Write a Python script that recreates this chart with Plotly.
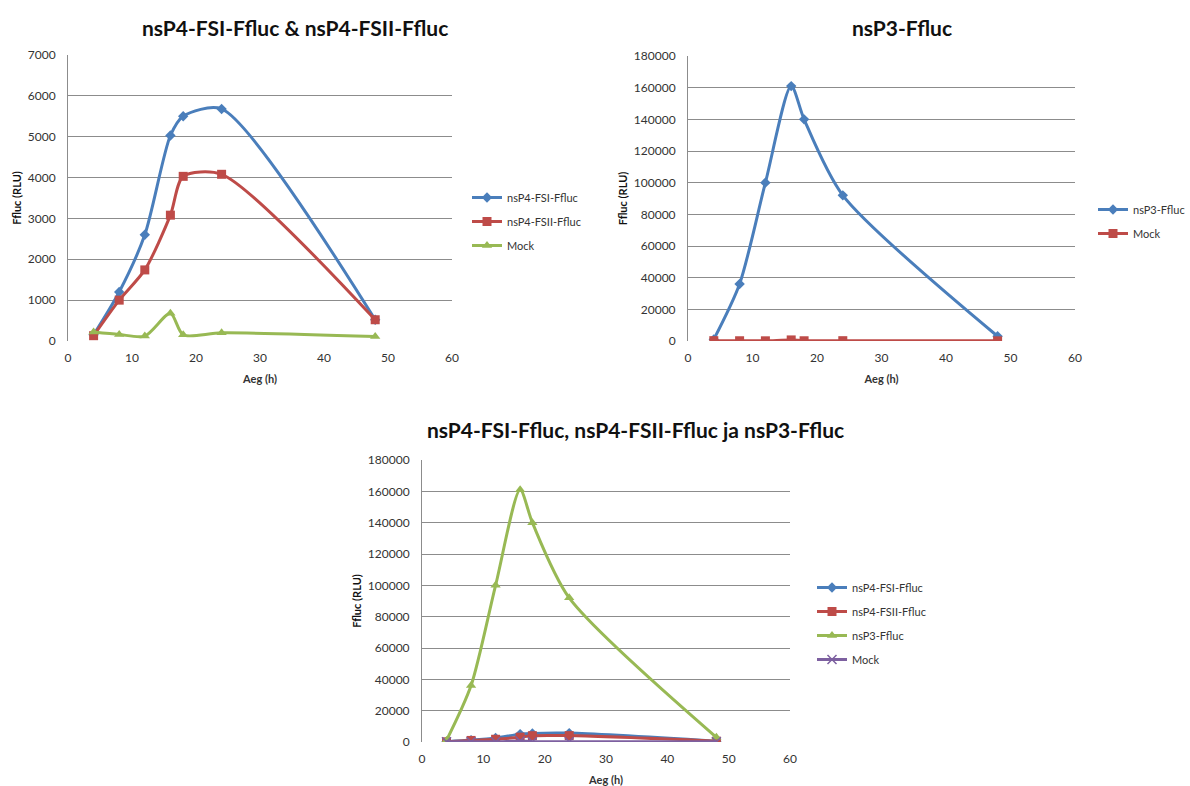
import plotly.graph_objects as go

hours = [4, 8, 12, 16, 18, 24, 48]
fsi = [150, 1200, 2600, 5030, 5500, 5680, 520]
fsii = [130, 1000, 1740, 3080, 4030, 4080, 520]
mock = [220, 160, 120, 680, 150, 200, 110]
nsp3 = [1000, 36000, 100000, 161000, 140000, 92000, 3000]

x_ticks = [0, 10, 20, 30, 40, 50, 60]

BLUE = "#4A7EBB"
RED = "#BE4B48"
GREEN = "#98B954"
PURPLE = "#7D60A0"
FONT = "Lato, Noto Sans, sans-serif"

fig = go.Figure()

def add(x, y, name, color, symbol, xa, ya, legend, msize=8):
    fig.add_trace(go.Scatter(
        x=x, y=y, name=name, mode="lines+markers",
        line=dict(color=color, width=3, shape="spline", smoothing=0.75),
        marker=dict(symbol=symbol, size=msize, color=color,
                    line=dict(color=color, width=1.5 if symbol == "x-thin" else 0)),
        xaxis=xa, yaxis=ya, legend=legend, legendgroup=legend + name))

# Chart 1
add(hours, fsi, "nsP4-FSI-Ffluc", BLUE, "diamond", "x", "y", "legend")
add(hours, fsii, "nsP4-FSII-Ffluc", RED, "square", "x", "y", "legend", 9)
add(hours, mock, "Mock", GREEN, "triangle-up", "x", "y", "legend", 9)
# Chart 2
add(hours, nsp3, "nsP3-Ffluc", BLUE, "diamond", "x2", "y2", "legend2")
add(hours, mock, "Mock", RED, "square", "x2", "y2", "legend2", 9)
# Chart 3
add(hours, fsi, "nsP4-FSI-Ffluc", BLUE, "diamond", "x3", "y3", "legend3")
add(hours, fsii, "nsP4-FSII-Ffluc", RED, "square", "x3", "y3", "legend3", 9)
add(hours, nsp3, "nsP3-Ffluc", GREEN, "triangle-up", "x3", "y3", "legend3", 9)
add(hours, mock, "Mock", PURPLE, "x-thin", "x3", "y3", "legend3", 9)

W, H = 1190, 786
def px(v): return v / W
def py(v): return (H - v) / H

grid = "#8C8C8C"
def xaxis(dom, anchor):
    return dict(domain=dom, anchor=anchor, range=[0, 60], tickvals=x_ticks,
                showgrid=False, zeroline=False, showline=False, automargin=False,
                ticks="outside", ticklen=6, tickcolor="rgba(0,0,0,0)",
                tickfont=dict(family=FONT, size=12, color="#333"),
                title=dict(text="<b>Aeg (h)</b>", font=dict(family=FONT, size=11, color="#333"), standoff=10))

def yaxis(dom, anchor, rng, dtick):
    return dict(domain=dom, anchor=anchor, range=rng, dtick=dtick,
                showgrid=True, gridcolor=grid, gridwidth=1, zeroline=False,
                showline=True, linecolor=grid, linewidth=1, automargin=False,
                ticks="outside", ticklen=9, tickcolor="rgba(0,0,0,0)",
                tickformat="d",
                tickfont=dict(family=FONT, size=12, color="#333"),
                title=dict(text="<b>Ffluc (RLU)</b>", font=dict(family=FONT, size=11, color="#111"), standoff=3))

legfont = dict(family=FONT, size=11, color="#333")
fig.update_layout(
    width=W, height=H, margin=dict(l=0, r=0, t=0, b=0, autoexpand=False),
    paper_bgcolor="white", plot_bgcolor="white",
    xaxis=xaxis([px(68), px(452)], "y"),
    yaxis=yaxis([py(341), py(55)], "x", [0, 7000], 1000),
    xaxis2=xaxis([px(688), px(1075)], "y2"),
    yaxis2=yaxis([py(341), py(56)], "x2", [0, 180000], 20000),
    xaxis3=xaxis([px(422), px(790)], "y3"),
    yaxis3=yaxis([py(742), py(460)], "x3", [0, 180000], 20000),
    legend=dict(x=px(467), y=py(183), xanchor="left", yanchor="top",
                font=legfont, tracegroupgap=5, itemwidth=30, traceorder="grouped"),
    legend2=dict(x=px(1093), y=py(195), xanchor="left", yanchor="top",
                 font=legfont, tracegroupgap=5, itemwidth=30, traceorder="grouped"),
    legend3=dict(x=px(812), y=py(573), xanchor="left", yanchor="top",
                 font=legfont, tracegroupgap=5, itemwidth=30, traceorder="grouped"),
    annotations=[
        dict(text="<b>nsP4-FSI-Ffluc &amp; nsP4-FSII-Ffluc</b>", x=px(295), y=py(28), xref="paper", yref="paper",
             xanchor="center", yanchor="middle",
             showarrow=False, font=dict(family=FONT, size=21, color="#111")),
        dict(text="<b>nsP3-Ffluc</b>", x=px(902), y=py(28), xref="paper", yref="paper",
             xanchor="center", yanchor="middle",
             showarrow=False, font=dict(family=FONT, size=21, color="#111")),
        dict(text="<b>nsP4-FSI-Ffluc, nsP4-FSII-Ffluc ja nsP3-Ffluc</b>", x=px(635), y=py(429), xref="paper", yref="paper",
             xanchor="center", yanchor="middle",
             showarrow=False, font=dict(family=FONT, size=21, color="#111")),
    ],
)

fig.write_html("out.html", config={"displayModeBar": False},
               post_script="document.body.style.margin='0px';document.body.style.overflow='hidden';")
